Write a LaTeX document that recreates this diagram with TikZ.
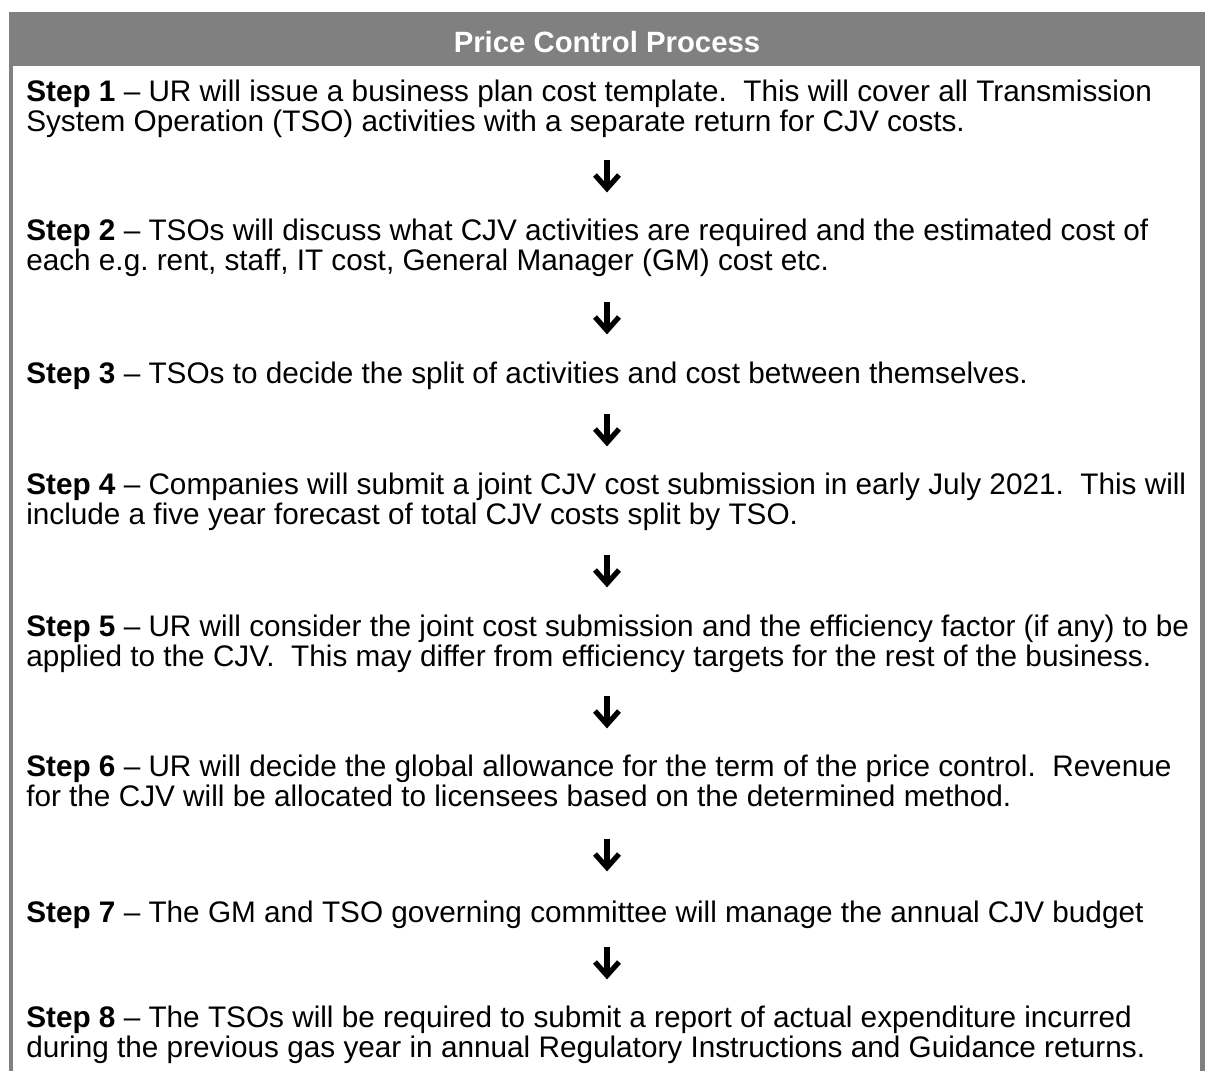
\documentclass[tikz,border=0pt]{standalone}
\usepackage{fontspec}
\setmainfont{Liberation Sans}
\definecolor{hdrgray}{RGB}{128,128,128}
\tikzset{
  stepnode/.style={anchor=base west, inner sep=0pt, align=left,
    font=\fontsize{22.3}{22.4}\selectfont},
  hdrnode/.style={anchor=base, inner sep=0pt, text=white,
    font=\fontsize{22}{22.5}\selectfont\bfseries},
  arrowline/.style={line width=3.9pt, line join=miter, line cap=butt},
  downarr/.pic={
    \draw[arrowline] (0,-16) -- (0,12);
    \draw[arrowline] (-12,-1) -- (0,12.5) -- (12,-1);
  }
}
\begin{document}
\begin{tikzpicture}[x=0.75pt,y=-0.75pt]
\useasboundingbox (0,0) rectangle (1208,1071);
% header bar and side borders
\fill[hdrgray] (9,12) rectangle (1205,66);
\fill[hdrgray] (9,66) rectangle (13,1071);
\fill[hdrgray] (1200,66) rectangle (1205,1071);
\node[hdrnode] (hdr) at (607,52) {Price Control Process};
% steps (two-line nodes are anchored at the baseline of their last line)
\node[stepnode] (s1) at (26,131) {\textbf{Step 1} -- UR will issue a business plan cost template.\ \ This will cover all Transmission\\System Operation (TSO) activities with a separate return for CJV costs.};
\node[stepnode] (s2) at (26,270) {\textbf{Step 2} -- TSOs will discuss what CJV activities are required and the estimated cost of\\each e.g.\ rent, staff, IT cost, General Manager (GM) cost etc.};
\node[stepnode] (s3) at (26,383) {\textbf{Step 3} -- TSOs to decide the split of activities and cost between themselves.};
\node[stepnode] (s4) at (26,524) {\textbf{Step 4} -- Companies will submit a joint CJV cost submission in early July 2021.\ \ This will\\include a five year forecast of total CJV costs split by TSO.};
\node[stepnode] (s5) at (26,666) {\textbf{Step 5} -- UR will consider the joint cost submission and the efficiency factor (if any) to be\\applied to the CJV.\ \ This may differ from efficiency targets for the rest of the business.};
\node[stepnode] (s6) at (26,806) {\textbf{Step 6} -- UR will decide the global allowance for the term of the price control.\ \ Revenue\\for the CJV will be allocated to licensees based on the determined method.};
\node[stepnode] (s7) at (26,922) {\textbf{Step 7} -- The GM and TSO governing committee will manage the annual CJV budget};
\node[stepnode] (s8) at (26,1057) {\textbf{Step 8} -- The TSOs will be required to submit a report of actual expenditure incurred\\during the previous gas year in annual Regulatory Instructions and Guidance returns.};
% arrows
\pic at (607,176) {downarr};
\pic at (607,318) {downarr};
\pic at (607,430) {downarr};
\pic at (607,571) {downarr};
\pic at (607,712) {downarr};
\pic at (607,855) {downarr};
\pic at (607,963) {downarr};
\end{tikzpicture}
\end{document}
